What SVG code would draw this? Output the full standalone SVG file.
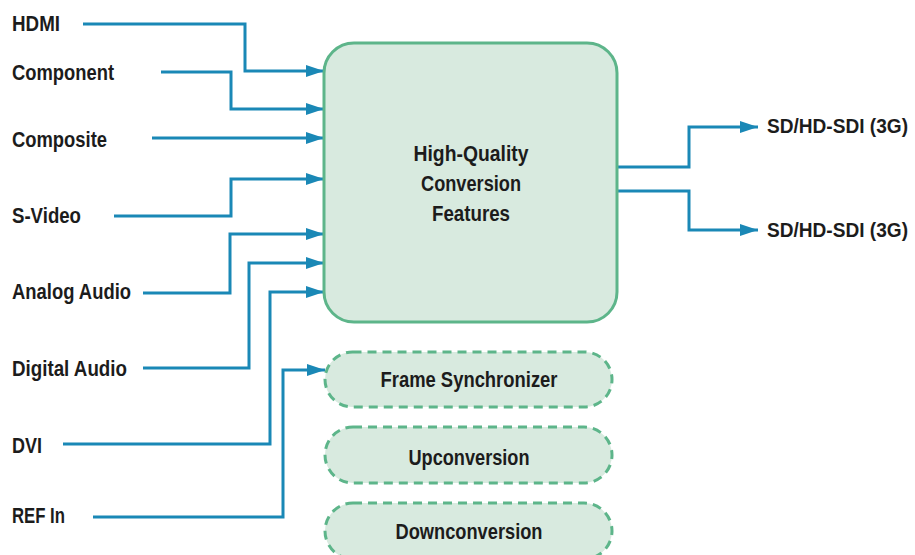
<svg xmlns="http://www.w3.org/2000/svg" width="915" height="555" viewBox="0 0 915 555">
<defs>
<style>
.lbl{font-family:"Liberation Sans",Arial,sans-serif;font-weight:bold;font-size:22px;fill:#1c1c1c}
.out{font-size:20px}
.c{text-anchor:middle}
.main{fill:#d8eadf;stroke:#5db58a;stroke-width:3}
.pill{fill:#d8eadf;stroke:#5db58a;stroke-width:3;stroke-dasharray:9 6}
.wire{fill:none;stroke:#1a88b6;stroke-width:3;marker-end:url(#arr)}
</style>
<marker id="arr" markerUnits="userSpaceOnUse" markerWidth="20" markerHeight="14" refX="18" refY="6" orient="auto">
<path d="M0,0 L18,6 L0,12 Z" fill="#1a88b6"/>
</marker>
</defs>
<g id="connectors">
<path class="wire" d="M83,24 H245 V71 H324"/>
<path class="wire" d="M161,72 H231 V109 H324"/>
<path class="wire" d="M152,138 H324"/>
<path class="wire" d="M114,216 H231 V179 H324"/>
<path class="wire" d="M143,293 H230 V234 H324"/>
<path class="wire" d="M143,368 H249 V263 H324"/>
<path class="wire" d="M63,444 H270 V292 H324"/>
<path class="wire" d="M93,517 H283 V370 H325"/>
<path class="wire" d="M618,167 H689 V127 H758"/>
<path class="wire" d="M618,191 H689 V230 H758"/>
</g>
<g id="inputs">
<text class="lbl" x="12" y="31" textLength="48" lengthAdjust="spacingAndGlyphs">HDMI</text>
<text class="lbl" x="12" y="80" textLength="102" lengthAdjust="spacingAndGlyphs">Component</text>
<text class="lbl" x="12" y="147" textLength="95" lengthAdjust="spacingAndGlyphs">Composite</text>
<text class="lbl" x="12" y="223" textLength="69" lengthAdjust="spacingAndGlyphs">S-Video</text>
<text class="lbl" x="12" y="299" textLength="119" lengthAdjust="spacingAndGlyphs">Analog Audio</text>
<text class="lbl" x="12" y="376" textLength="115" lengthAdjust="spacingAndGlyphs">Digital Audio</text>
<text class="lbl" x="12" y="453" textLength="30" lengthAdjust="spacingAndGlyphs">DVI</text>
<text class="lbl" x="12" y="523" textLength="53" lengthAdjust="spacingAndGlyphs">REF In</text>
</g>
<g id="main">
<rect class="main" x="324" y="43" width="293" height="279" rx="30"/>
<text class="lbl c" x="471" y="161" textLength="115" lengthAdjust="spacingAndGlyphs">High-Quality</text>
<text class="lbl c" x="471" y="191" textLength="100" lengthAdjust="spacingAndGlyphs">Conversion</text>
<text class="lbl c" x="471" y="221" textLength="78" lengthAdjust="spacingAndGlyphs">Features</text>
</g>
<g id="outputs">
<text class="lbl out" x="767" y="133" textLength="141" lengthAdjust="spacingAndGlyphs">SD/HD-SDI (3G)</text>
<text class="lbl out" x="767" y="237" textLength="141" lengthAdjust="spacingAndGlyphs">SD/HD-SDI (3G)</text>
</g>
<g id="frame-sync">
<rect class="pill" x="325" y="352" width="287" height="55" rx="27.5"/>
<text class="lbl c" x="469" y="387" textLength="177" lengthAdjust="spacingAndGlyphs">Frame Synchronizer</text>
</g>
<g id="upconversion">
<rect class="pill" x="325" y="427" width="287" height="56" rx="28"/>
<text class="lbl c" x="469" y="465" textLength="121" lengthAdjust="spacingAndGlyphs">Upconversion</text>
</g>
<g id="downconversion">
<rect class="pill" x="325" y="503" width="287" height="56" rx="28"/>
<text class="lbl c" x="469" y="539" textLength="147" lengthAdjust="spacingAndGlyphs">Downconversion</text>
</g>
</svg>
